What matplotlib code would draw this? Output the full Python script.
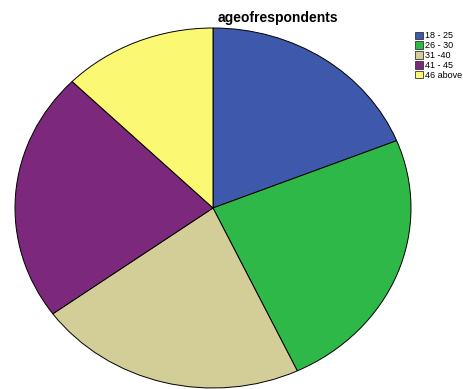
import matplotlib.pyplot as plt
from matplotlib.patches import Patch

# age groups of respondents (percent)
labels = ['18 - 25', '26 - 30', '31 -40', '41 - 45', '46 above']
values = [18.9, 24.1, 22.0, 22.4, 12.6]
colors = ['#3E58AC', '#2EB848', '#D3CE97', '#7B287D', '#FBF873']

fig = plt.figure(figsize=(4.64, 3.89), dpi=100)
ax = fig.add_axes([15 / 464, 1 / 389, 396 / 464, 360 / 389])
ax.pie(values, colors=colors, startangle=90, counterclock=False,
       wedgeprops=dict(edgecolor='black', linewidth=0.7))
ax.set_aspect('auto')
ax.set_xlim(-1, 1)
ax.set_ylim(-1, 1)
ax.axis('off')

fig.text(278 / 464, 1 - 18 / 389, 'ageofrespondents', ha='center', va='center',
         fontsize=10, fontweight='bold', family='Liberation Sans')

handles = [Patch(facecolor=c, edgecolor='#333333', linewidth=0.6) for c in colors]
leg = fig.legend(handles, labels, loc='upper left', bbox_to_anchor=(409 / 464, 1 - 25 / 389),
                 frameon=False, handlelength=0.85, handleheight=0.85,
                 handletextpad=0.25, labelspacing=0.1, borderpad=0.2,
                 prop=dict(family='Liberation Sans', size=6.5))

fig.savefig('out.png', dpi=100)
